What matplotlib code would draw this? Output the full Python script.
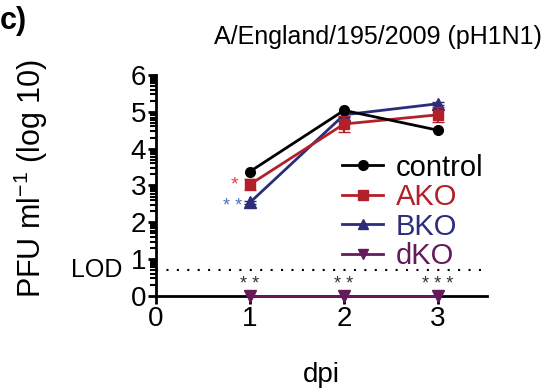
import matplotlib
matplotlib.use("Agg")
import matplotlib.pyplot as plt
from matplotlib.lines import Line2D
import numpy as np

plt.rcParams['font.family'] = ['Liberation Sans', 'DejaVu Sans']

days = [1, 2, 3]
control = [3.38, 5.04, 4.50]
ako = [3.03, 4.67, 4.92]
ako_err = [0.15, 0.22, 0.2]
bko = [2.54, 4.92, 5.22]
bko_err = [0.03, 0.05, 0.04]
dko = [0.0, 0.0, 0.0]
lod = 0.7
series_names = ["control", "AKO", "BKO", "dKO"]
colors = ["#000000", "#b3202a", "#2b2d7c", "#651a5b"]
markers = ['o', 's', '^', 'v']
dko_stars = ["* *", "* *", "* * *"]

fig = plt.figure(figsize=(5.51, 3.92), dpi=100)
ax = fig.add_axes([156/551, 1-296/392, (487-156)/551, (296-75)/392])
ax.set_xlim(0, 3.52)
ax.set_ylim(0, 6)

lw = 2
ax.plot(days, control, color=colors[0], marker='o', ms=7, lw=lw, zorder=5)
ax.errorbar(days, ako, yerr=ako_err, color=colors[1], marker='s', ms=7, lw=lw, capsize=4,
            elinewidth=1.5, zorder=4)
ax.errorbar(days, bko, yerr=bko_err, color=colors[2], marker='^', ms=8, lw=lw, capsize=4,
            elinewidth=1.5, zorder=3)
ax.plot(days, dko, color=colors[3], marker='v', ms=8, lw=lw, zorder=6, clip_on=False)

ax.axhline(lod, xmin=0, xmax=1, color='black', lw=1.5, ls=(0, (1, 4)))
ax.text(-0.36, lod, "LOD", ha='right', va='center', fontsize=18)

# significance marks
ax.text(0.88, ako[0] - 0.02, "*", color="#e8383d", ha='right', va='center', fontsize=14)
ax.text(0.92, bko[0] - 0.12, "* *", color="#4a74b8", ha='right', va='center', fontsize=13)
for d, s in zip(days, dko_stars):
    ax.text(d, 0.32, s, color="#333333", ha='center', va='center', fontsize=13)

for s in ['top', 'right']:
    ax.spines[s].set_visible(False)
for s in ['left', 'bottom']:
    ax.spines[s].set_linewidth(2)

ax.set_xticks([0, 1, 2, 3])
ax.set_yticks([0, 1, 2, 3, 4, 5, 6])
minor = [i + np.log10(k) for i in range(6) for k in range(2, 10)]
ax.set_yticks(minor, minor=True)
ax.tick_params(axis='both', which='major', labelsize=20, width=2, length=6, direction='out', pad=1)
ax.tick_params(axis='y', which='minor', width=1.5, length=4)

ax.set_xlabel("dpi", fontsize=20, labelpad=22)
ax.set_ylabel(r"PFU ml$^{\mathregular{-1}}$ (log 10)", fontsize=22)
ax.yaxis.set_label_coords(-0.32, 0.53)
ax.set_title("A/England/195/2009 (pH1N1)", fontsize=18, x=0.67, pad=22)
fig.text(0.0, 0.985, "c)", fontsize=22, fontweight='bold', va='top')

handles = [Line2D([], [], color=c, marker=m, ms=7, lw=lw) for c, m in zip(colors, markers)]
leg = ax.legend(handles, series_names, loc='upper left', bbox_to_anchor=(0.527, 0.697),
                frameon=False, fontsize=21, handlelength=1.4, handletextpad=0.45,
                labelspacing=0.05, borderaxespad=0)
for t, c in zip(leg.get_texts(), colors):
    t.set_color(c)

fig.savefig("out.png", dpi=100)
